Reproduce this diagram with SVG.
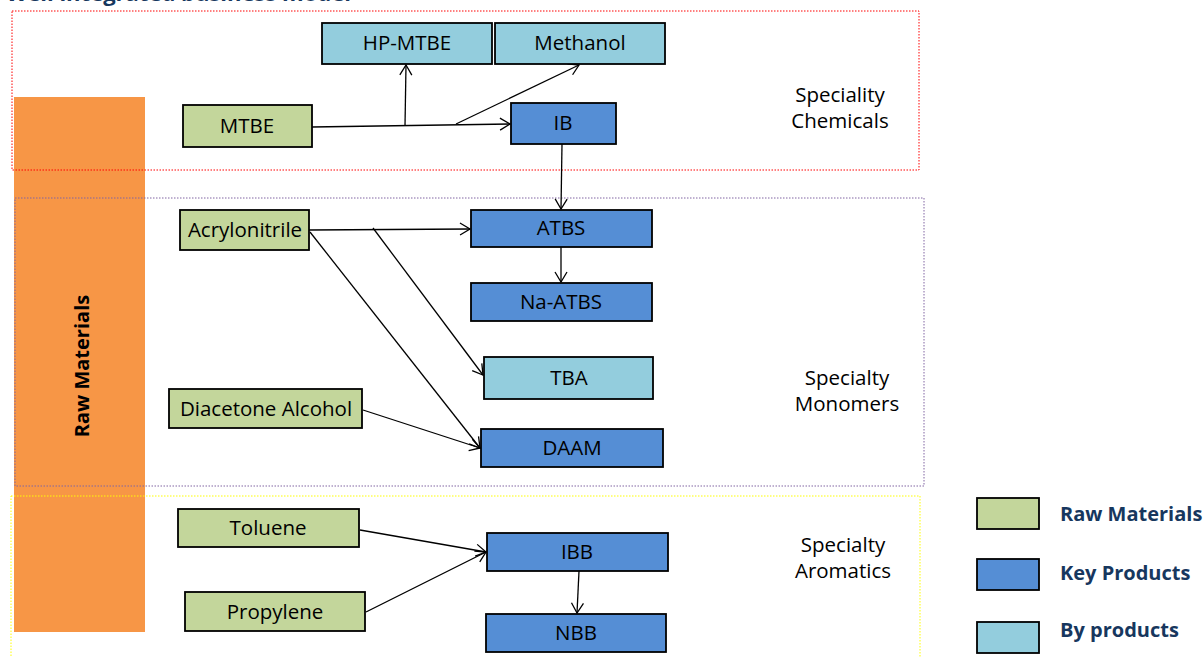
<svg xmlns="http://www.w3.org/2000/svg" width="1204" height="657" viewBox="0 0 1204 657">
<defs>
<marker id="arr" markerUnits="userSpaceOnUse" markerWidth="14" markerHeight="14" refX="11" refY="7" orient="auto">
<path d="M1,1 L11,7 L1,13" fill="none" stroke="#000" stroke-width="1.3"/>
</marker>
<style>
.raw{fill:#C3D69B;stroke:#000;stroke-width:1.8}
.key{fill:#558ED5;stroke:#000;stroke-width:1.8}
.by{fill:#93CDDD;stroke:#000;stroke-width:1.8}
.t{font-family:"Open Sans","Liberation Sans",sans-serif;font-size:20.5px;fill:#000;text-anchor:middle}
.sec{font-family:"Open Sans","Liberation Sans",sans-serif;font-size:20.5px;fill:#000;text-anchor:middle}
.leg{font-family:"Open Sans","Liberation Sans",sans-serif;font-size:20px;font-weight:bold;fill:#17375E}
.ca{fill:none;stroke:#000;stroke-width:1.3;marker-end:url(#arr)}
</style>
</defs>
<rect width="1204" height="657" fill="#fff"/>
<text x="6" y="1" font-family="'Open Sans','Liberation Sans',sans-serif" font-size="22" font-weight="bold" fill="#17375E">Well integrated business model</text>

<g id="raw-materials-bar">
<rect x="14" y="97" width="131" height="535" fill="#F79646"/>
<text transform="translate(89,366) rotate(-90)" font-family="'Open Sans','Liberation Sans',sans-serif" font-size="20" font-weight="bold" fill="#000" text-anchor="middle">Raw Materials</text>
</g>

<g id="sections">
<rect x="12" y="11" width="907" height="159" fill="none" stroke="#FF0000" stroke-width="1" stroke-dasharray="1.5,1.5"/>
<rect x="15" y="198" width="909" height="288" fill="none" stroke="#8064A2" stroke-width="1" stroke-dasharray="1.5,1.5"/>
<rect x="11" y="496" width="909" height="170" fill="none" stroke="#FFFF00" stroke-width="1" stroke-dasharray="1.5,1.5"/>
</g>

<g id="section-labels">
<text class="sec" x="840" y="102">Speciality</text>
<text class="sec" x="840" y="128">Chemicals</text>
<text class="sec" x="847" y="385">Specialty</text>
<text class="sec" x="847" y="411">Monomers</text>
<text class="sec" x="843" y="552">Specialty</text>
<text class="sec" x="843" y="578">Aromatics</text>
</g>

<g id="connectors">
<line class="ca" x1="312" y1="127" x2="510" y2="124"/>
<line class="ca" x1="405" y1="126" x2="406" y2="65"/>
<line class="ca" x1="456" y1="124" x2="579" y2="65"/>
<line class="ca" x1="562" y1="144" x2="561" y2="209"/>
<line class="ca" x1="309" y1="230" x2="470" y2="229"/>
<line class="ca" x1="373" y1="228" x2="483" y2="375"/>
<line class="ca" x1="310" y1="232" x2="480" y2="448"/>
<line class="ca" x1="363" y1="410" x2="480" y2="448"/>
<line class="ca" x1="561" y1="247" x2="561" y2="282"/>
<line class="ca" x1="360" y1="530" x2="486" y2="552"/>
<line class="ca" x1="366" y1="612" x2="486" y2="552"/>
<line class="ca" x1="579" y1="571" x2="577" y2="613"/>
</g>

<g id="n-hpmtbe"><rect class="by" x="322" y="23" width="170" height="41"/><text class="t" x="407" y="50">HP-MTBE</text></g>
<g id="n-methanol"><rect class="by" x="495" y="23" width="170" height="41"/><text class="t" x="580" y="50">Methanol</text></g>
<g id="n-mtbe"><rect class="raw" x="183" y="105" width="129" height="42"/><text class="t" x="247" y="133">MTBE</text></g>
<g id="n-ib"><rect class="key" x="511" y="103" width="105" height="41"/><text class="t" x="563" y="130">IB</text></g>
<g id="n-acrylonitrile"><rect class="raw" x="180" y="210" width="129" height="40"/><text class="t" x="245" y="237">Acrylonitrile</text></g>
<g id="n-atbs"><rect class="key" x="471" y="210" width="181" height="37"/><text class="t" x="561" y="235">ATBS</text></g>
<g id="n-naatbs"><rect class="key" x="471" y="283" width="181" height="38"/><text class="t" x="561" y="309">Na-ATBS</text></g>
<g id="n-tba"><rect class="by" x="484" y="357" width="169" height="42"/><text class="t" x="569" y="385">TBA</text></g>
<g id="n-daa"><rect class="raw" x="169" y="389" width="193" height="39"/><text class="t" x="266" y="416">Diacetone Alcohol</text></g>
<g id="n-daam"><rect class="key" x="481" y="429" width="182" height="38"/><text class="t" x="572" y="455">DAAM</text></g>
<g id="n-toluene"><rect class="raw" x="178" y="509" width="181" height="38"/><text class="t" x="268" y="535">Toluene</text></g>
<g id="n-propylene"><rect class="raw" x="185" y="592" width="180" height="39"/><text class="t" x="275" y="619">Propylene</text></g>
<g id="n-ibb"><rect class="key" x="487" y="533" width="181" height="38"/><text class="t" x="577" y="559">IBB</text></g>
<g id="n-nbb"><rect class="key" x="486" y="614" width="180" height="38"/><text class="t" x="576" y="640">NBB</text></g>

<g id="legend">
<rect class="raw" x="977" y="498" width="62" height="31"/>
<text class="leg" x="1060" y="521">Raw Materials</text>
<rect class="key" x="977" y="559" width="62" height="31"/>
<text class="leg" x="1060" y="580">Key Products</text>
<rect class="by" x="977" y="622" width="62" height="31"/>
<text class="leg" x="1060" y="637">By products</text>
</g>
</svg>
